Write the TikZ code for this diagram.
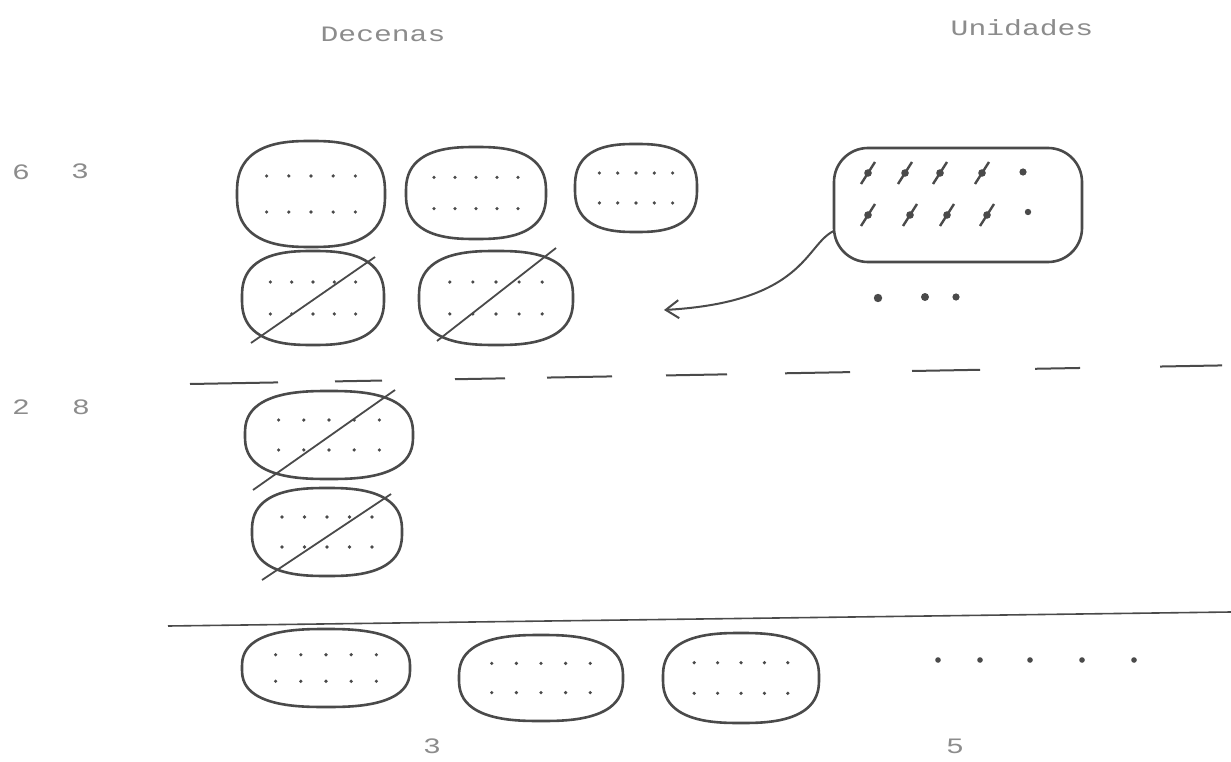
\documentclass[tikz,border=0pt]{standalone}
\usepackage{fontspec}
\newfontfamily\dotfont[FakeStretch=1.35]{Liberation Mono}
\usetikzlibrary{arrows.meta,calc}
\definecolor{ink}{HTML}{4A4A4A}
\definecolor{txt}{HTML}{8C8C8C}
\tikzset{
  blob/.style={draw=ink, line width=2.6pt, line join=round},
  slash/.style={draw=ink, line width=1.8pt},
  lbl/.style={text=txt, font=\dotfont\fontsize{22}{22}\selectfont, inner sep=0pt},
  rule/.style={draw=ink, line width=1.6pt},
}
% superellipse outline around a named (invisible) node
\newcommand\blobat[5]{%
  \node[inner sep=0pt, minimum width=#4pt, minimum height=#5pt] (#1) at (#2,#3) {};
  \draw[blob] plot[domain=2.5:357.5, samples=72, smooth cycle, variable=\t]
    ({#2+#4/2*sign(cos(\t))*abs(cos(\t))^0.76},{#3+#5/2*sign(sin(\t))*abs(sin(\t))^0.76});
  \foreach \i in {0,...,4}{
    \fill[ink] ({#2+(\i-2)*#4*0.15},{#3-#5*0.17}) circle (1.8pt);
    \fill[ink] ({#2+(\i-2)*#4*0.15},{#3+#5*0.17}) circle (1.8pt);
  }%
}
\newcommand\crossdot[2]{%
  \fill[ink] (#1,#2) circle (3.8pt);
  \draw[ink, line width=2.4pt] ({#1-7},{#2+11}) -- ({#1+7},{#2-11});
}
\begin{document}
\begin{tikzpicture}[x=1pt,y=-1pt]
\useasboundingbox (0,0) rectangle (1231,762);
\fill[white] (0,0) rectangle (1231,762);

% headings
\node[lbl] (dec) at (383,34) {Decenas};
\node[lbl] (uni) at (1022,28) {Unidades};
\node[lbl] (n6) at (21,172) {6};
\node[lbl] (n3) at (80,171) {3};
\node[lbl] (n2) at (21,407) {2};
\node[lbl] (n8) at (81,407) {8};
\node[lbl] (r3) at (432,746) {3};
\node[lbl] (r5) at (955,746) {5};

% top decenas
\blobat{b1}{311}{194}{148}{106}
\blobat{b2}{476}{193}{140}{92}
\blobat{b3}{636}{188}{122}{88}
\blobat{b4}{313}{298}{142}{94}
\blobat{b5}{496}{298}{154}{94}
\draw[slash] (251,343) -- (375,257);
\draw[slash] (437,341) -- (556,248);

% unidades box
\node[blob, minimum width=248pt, minimum height=114pt, rounded corners=34pt] (ubox) at (958,205) {};
\foreach \x in {868,905,940,982}{\crossdot{\x}{173}}
\foreach \x in {868,910,947,987}{\crossdot{\x}{215}}
\fill[ink] (1023,172) circle (3.6pt);
\fill[ink] (1028,212) circle (3.2pt);
\fill[ink] (878,298) circle (4.2pt);
\fill[ink] (925,297) circle (4pt);
\fill[ink] (956,297) circle (3.6pt);

% arrow
\coordinate (tip) at (664,310);
\draw[ink, line width=2pt, -{Straight Barb[length=13pt,width=18pt,line width=2pt]}]
  ($(ubox.west)+(1,26)$) .. controls (805,245) and (805,302) .. (tip);

% dashed separator
\foreach \a/\b in {190/278,335/382,455/505,547/612,666/727,785/850,912/980,1035/1080,1160/1222}{
  \draw[rule, line width=2pt] (\a,{384-(\a-190)*0.018}) -- (\b,{384-(\b-190)*0.018});
}

% middle decenas
\blobat{b6}{329}{435}{168}{88}
\blobat{b7}{327}{532}{150}{88}
\draw[slash] (253,490) -- (395,390);
\draw[slash] (262,580) -- (391,494);

% solid line
\draw[rule] (168,626) -- (1231,612);

% bottom
\blobat{b8}{326}{668}{168}{78}
\blobat{b9}{541}{678}{164}{86}
\blobat{b10}{741}{678}{156}{90}
\foreach \x in {938,980,1030,1082,1134}{\fill[ink] (\x,660) circle (2.8pt);}
\end{tikzpicture}
\end{document}
